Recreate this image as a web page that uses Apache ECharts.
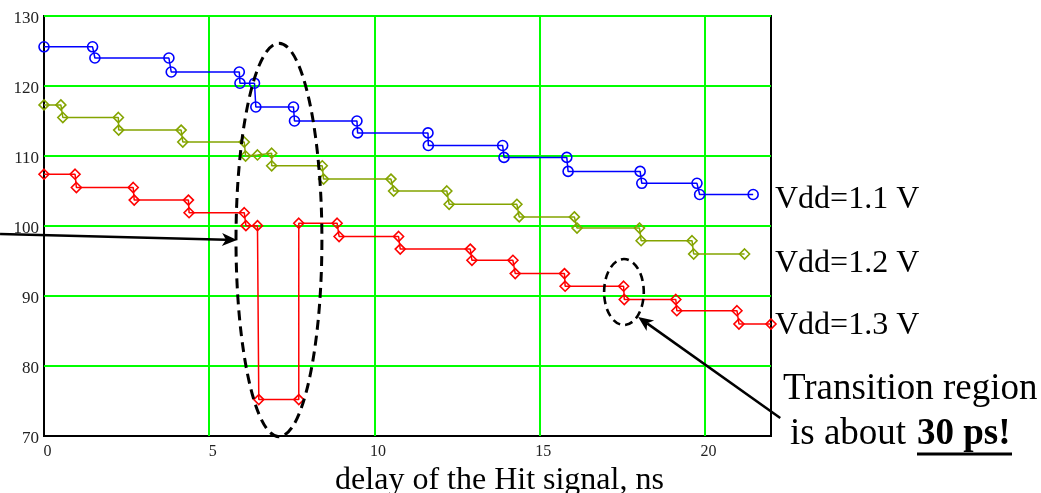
<!DOCTYPE html>
<html>
<head>
<meta charset="utf-8">
<script src="https://cdn.jsdelivr.net/npm/echarts@6/dist/echarts.min.js"></script>
<style>
  html, body { margin: 0; padding: 0; background: #fff; }
  #chart { width: 1041px; height: 493px; }
</style>
</head>
<body>
<div id="chart"></div>
<script>
// Axis ticks
const xTicks = [0, 5, 10, 15, 20];
const yTicks = [70, 80, 90, 100, 110, 120, 130];

// Measured code vs. Hit delay (ns), one staircase per supply voltage
const vdd11X = [0, 1.47, 1.54, 3.78, 3.85, 5.91, 5.93, 6.37, 6.41, 7.55, 7.58, 9.47, 9.49, 11.62, 11.63, 13.88, 13.92, 15.82, 15.86, 18.04, 18.09, 19.76, 19.84, 21.46];
const vdd11Y = [125.6, 125.6, 124.0, 124.0, 122.0, 122.0, 120.4, 120.4, 117.0, 117.0, 115.0, 115.0, 113.3, 113.3, 111.5, 111.5, 109.8, 109.8, 107.8, 107.8, 106.1, 106.1, 104.5, 104.5];

const vdd12X = [0, 0.51, 0.57, 2.25, 2.26, 4.15, 4.20, 6.06, 6.10, 6.46, 6.89, 6.89, 8.42, 8.46, 10.50, 10.58, 12.19, 12.26, 14.31, 14.38, 16.05, 16.13, 18.02, 18.07, 19.61, 19.66, 21.20];
const vdd12Y = [117.3, 117.3, 115.5, 115.5, 113.7, 113.7, 112.0, 112.0, 110.0, 110.15, 110.4, 108.6, 108.6, 106.7, 106.7, 105.0, 105.0, 103.1, 103.1, 101.3, 101.3, 99.7, 99.7, 97.9, 97.9, 96.0, 96.0];

const vdd13X = [0, 0.94, 0.98, 2.70, 2.73, 4.37, 4.39, 6.06, 6.11, 6.46, 6.50, 7.71, 7.71, 8.87, 8.93, 10.73, 10.78, 12.90, 12.95, 14.19, 14.26, 15.75, 15.77, 17.54, 17.56, 19.12, 19.15, 20.97, 21.03, 22.0];
const vdd13Y = [107.4, 107.4, 105.5, 105.5, 103.7, 103.7, 101.9, 101.9, 100.05, 100.05, 75.2, 75.2, 100.4, 100.4, 98.5, 98.5, 96.7, 96.7, 95.1, 95.1, 93.2, 93.2, 91.4, 91.4, 89.5, 89.5, 87.9, 87.9, 86.0, 86.0];

const seriesNames = ['Vdd=1.1 V', 'Vdd=1.2 V', 'Vdd=1.3 V'];
const seriesColors = ['#0000ff', '#84a400', '#ff0000'];

// Callouts, in data units
const bigOval = { center: [7.11, 98.0], radius: [1.30, 28.1] };
const smallOval = { center: [17.55, 90.57], radius: [0.60, 4.71] };
const leftArrow = { from: [-1.33, 98.86], to: [5.84, 98.0] };
const rightArrow = { from: [22.28, 72.57], to: [17.98, 87.0] };

const serif = '"Liberation Serif", "Times New Roman", serif';
const zip = (xs, ys) => xs.map((x, i) => [x, ys[i]]);

function stairs(name, xs, ys, color, symbol, size) {
  return {
    name: name,
    type: 'line',
    data: zip(xs, ys),
    symbol: symbol,
    symbolSize: size,
    showAllSymbol: true,
    clip: false,
    lineStyle: { color: color, width: 1.5 },
    itemStyle: { color: 'rgba(255,255,255,0)', borderColor: color, borderWidth: 1.6 },
    emphasis: { disabled: true },
    z: 3
  };
}

const chart = echarts.init(document.getElementById('chart'), null, { renderer: 'canvas' });

chart.setOption({
  animation: false,
  grid: {
    left: 44, top: 16, width: 727, height: 420,
    outerBoundsMode: 'none', containLabel: false,
    show: true, borderColor: '#000', borderWidth: 2, backgroundColor: 'transparent'
  },
  xAxis: {
    type: 'value', min: 0, max: 22, interval: 5,
    axisLine: { show: false }, axisTick: { show: false },
    splitLine: { show: true, showMinLine: false, showMaxLine: false, lineStyle: { color: '#00ff00', width: 2 } },
    axisLabel: {
      fontFamily: serif, fontSize: 16, color: '#222', margin: 8, padding: [0, 0, 0, 7],
      formatter: v => (xTicks.includes(v) ? String(v) : '')
    },
    name: 'delay of the Hit signal, ns', nameLocation: 'middle', nameGap: 20,
    nameTextStyle: { fontFamily: serif, fontSize: 32, color: '#000', padding: [0, 0, 0, 184] }
  },
  yAxis: {
    type: 'value', min: 70, max: 130, interval: 10,
    axisLine: { show: false }, axisTick: { show: false },
    splitLine: { show: true, showMinLine: false, showMaxLine: true, lineStyle: { color: '#00ff00', width: 2 } },
    axisLabel: {
      margin: 5,
      formatter: v => (yTicks.includes(v) ? '{t|' + v + '}' : ''),
      rich: { t: { fontFamily: serif, fontSize: 17, color: '#222', padding: [5, 0, 0, 0] } }
    }
  },
  series: [
    stairs(seriesNames[0], vdd11X, vdd11Y, seriesColors[0], 'circle', 10),
    stairs(seriesNames[1], vdd12X, vdd12Y, seriesColors[1], 'diamond', 10),
    stairs(seriesNames[2], vdd13X, vdd13Y, seriesColors[2], 'diamond', 10)
  ]
});

const px = p => chart.convertToPixel({ gridIndex: 0 }, p);

function oval(o, width, dash) {
  const c = px(o.center);
  const e = px([o.center[0] + o.radius[0], o.center[1] + o.radius[1]]);
  return {
    type: 'ellipse', z: 10,
    shape: { cx: c[0], cy: c[1], rx: Math.abs(e[0] - c[0]), ry: Math.abs(e[1] - c[1]) },
    style: { fill: 'none', stroke: '#000', lineWidth: width, lineDash: dash }
  };
}

function arrow(a) {
  const p0 = px(a.from), p1 = px(a.to);
  const dx = p1[0] - p0[0], dy = p1[1] - p0[1];
  const L = Math.hypot(dx, dy), ux = dx / L, uy = dy / L, nx = -uy, ny = ux;
  const len = 15, half = 6.5, notch = 4;
  const bx = p1[0] - ux * len, by = p1[1] - uy * len;
  const mx = p1[0] - ux * (len - notch), my = p1[1] - uy * (len - notch);
  return [
    { type: 'line', z: 10, shape: { x1: p0[0], y1: p0[1], x2: mx, y2: my },
      style: { stroke: '#000', lineWidth: 2.5 } },
    { type: 'polygon', z: 10,
      shape: { points: [[p1[0], p1[1]], [bx + nx * half, by + ny * half], [mx, my], [bx - nx * half, by - ny * half]] },
      style: { fill: '#000' } }
  ];
}

function label(text, x, y, size, weight) {
  return {
    type: 'text', x: x, y: y, z: 10,
    style: {
      text: text, fill: '#000', verticalAlign: 'middle', align: 'left',
      font: (weight || 'normal') + ' ' + size + 'px ' + serif
    }
  };
}

chart.setOption({
  graphic: [
    oval(bigOval, 3, [10, 6]),
    oval(smallOval, 2.6, [8, 5]),
    ...arrow(leftArrow),
    ...arrow(rightArrow),
    label(seriesNames[0], 775, 200, 32),
    label(seriesNames[1], 775, 264, 32),
    label(seriesNames[2], 775, 326, 32),
    label('Transition region', 783, 389, 37),
    label('is about', 790, 434, 37),
    label('30 ps!', 917, 434, 37, 'bold'),
    { type: 'line', z: 10, shape: { x1: 917, y1: 454, x2: 1012, y2: 454 }, style: { stroke: '#000', lineWidth: 3 } }
  ]
});
</script>
</body>
</html>
